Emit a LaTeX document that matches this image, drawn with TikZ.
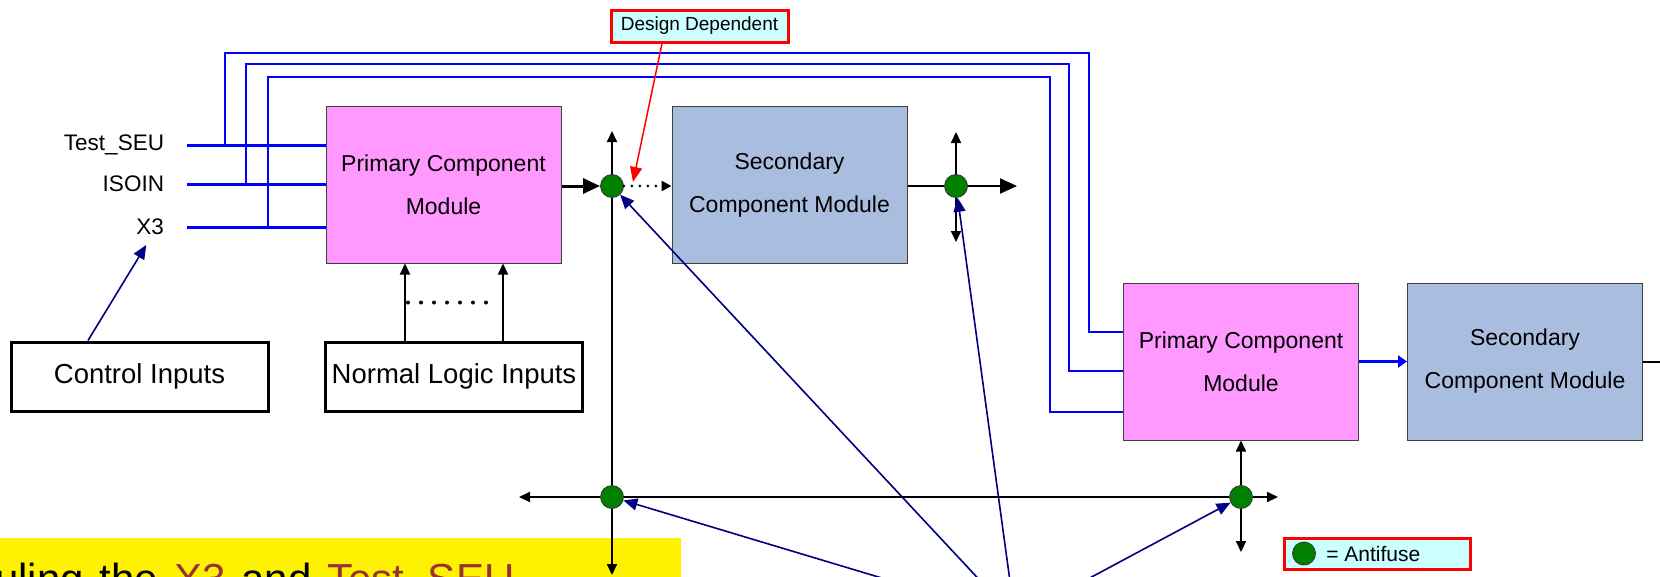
\documentclass[tikz,border=0pt]{standalone}
\usepackage{fontspec}
\setmainfont{Liberation Sans}
\usetikzlibrary{arrows.meta}
\definecolor{pcmpink}{HTML}{FF99FF}
\definecolor{scmblue}{HTML}{A9BEDF}
\definecolor{fusegreen}{HTML}{008000}
\definecolor{keycyan}{HTML}{CCFFFF}
\definecolor{navyline}{HTML}{000080}
\definecolor{sigblue}{HTML}{0000FF}
\definecolor{notered}{HTML}{993333}
\begin{document}
\begin{tikzpicture}[x=1pt,y=-1pt,line width=2pt,>={Triangle[length=11pt,width=10pt]},
  prim/.style={draw=black!75,line width=1pt,fill=pcmpink,minimum width=235pt,minimum height=157pt,
    align=center,font=\fontsize{23}{43}\selectfont},
  sec/.style={prim,fill=scmblue},
  inbox/.style={draw,line width=3pt,minimum width=257pt,minimum height=69pt,font=\fontsize{27.5}{33}\selectfont},
  lbl/.style={anchor=east,inner sep=2pt,font=\fontsize{22.5}{27}\selectfont},
  fuse/.style={circle,draw=black!80,line width=0.8pt,fill=fusegreen,minimum size=23pt,inner sep=0pt},
  callout/.style={draw=red,line width=3pt,fill=keycyan},
  sig/.style={sigblue,line width=3pt},
  wire/.style={sigblue,line width=1.8pt},
  pointer/.style={navyline,line width=1.6pt,-{Triangle[length=14pt,width=12pt]}},
  big/.style={-{Triangle[length=17pt,width=15pt]}},
  dots/.style={line width=4pt,line cap=round,dash pattern=on 0pt off 13pt}]
\useasboundingbox (0,0) rectangle (1660,576);
\clip (0,0) rectangle (1660,576);

\fill[yellow] (0,538) rectangle (681,600);
\node[anchor=base west,inner sep=0pt,font=\fontsize{42}{50}\selectfont] (note) at (-6,593)
  {\spaceskip=16pt uling the \textcolor{notered}{X3} and \textcolor{notered}{Test\_SEU}};

\node[lbl] (tseu) at (167,145) {Test\_SEU};
\node[lbl] (isoin) at (167,184) {ISOIN};
\node[lbl] (xthree) at (167,227) {X3};

\node[prim] (pcm1) at (443.5,184.5) {Primary Component\\Module};
\node[sec] (scm1) at (789.5,185) {Secondary\\Component Module};
\node[prim] (pcm2) at (1241,361.5) {Primary Component\\Module};
\node[sec] (scm2) at (1525,361.5) {Secondary\\Component Module};
\node[inbox] (ctrl) at (139.5,376.5) {Control Inputs};
\node[inbox] (norm) at (454,376.5) {\raisebox{-3pt}{Normal Logic Inputs}};
\node[callout,minimum width=177pt,minimum height=32pt,font=\fontsize{19}{22}\selectfont] (dd) at (699.5,26) {Design Dependent};

\node[fuse] (f1) at (612,186) {}; \node[fuse] (f2) at (956,186) {};
\node[fuse] (f3) at (1241,497) {}; \node[fuse] (f4) at (612,497) {};
\coordinate (up1) at (612,131); \coordinate (up2) at (956,132);
\coordinate (dn2) at (956,242); \coordinate (rt2) at (1017,186);
\coordinate (lt4) at (519,497); \coordinate (dn4) at (612,575);
\coordinate (rt3) at (1278,497); \coordinate (dn3) at (1241,552);
\coordinate (dep) at (633,182); \coordinate (src) at (1015,618);

\draw[sig] (tseu.east) ++(20,0) -- (tseu.east -| pcm1.west);
\draw[sig] (isoin.east) ++(20,0) -- (isoin.east -| pcm1.west);
\draw[sig] (xthree.east) ++(20,0) -- (xthree.east -| pcm1.west);
\draw[wire] (tseu.east) ++(58,0) |- (1089,53) |- ([yshift=29.5pt]pcm2.west);
\draw[wire] (isoin.east) ++(79,0) |- (1069,64) |- ([yshift=-9.5pt]pcm2.west);
\draw[wire] (xthree.east) ++(101,0) |- (1050,77) |- ([yshift=-50.5pt]pcm2.west);

\draw[big,line width=3pt] (pcm1.east |- f1) -- (f1);
\draw[line width=3pt,line cap=round,dash pattern=on 0pt off 8pt,-{Triangle[length=10pt,width=10pt]}] (f1.east) -- (scm1.west |- f1);
\draw[->] (f1) -- (up1); \draw (f1) -- (f4); \draw[->] (f4) -- (dn4);
\draw[->] (f4) -- (lt4); \draw (f4) -- (f3); \draw[->] (f3) -- (rt3);
\draw[->] (f3) -- (pcm2); \draw[->] (f3) -- (dn3);
\draw (scm1.east |- f2) -- (f2); \draw[big] (f2) -- (rt2);
\draw[->] (f2) -- (up2); \draw[->] (f2) -- (dn2);
\draw[->] ([xshift=-49pt]norm.north) -- ([xshift=-49pt]norm.north |- pcm1.south);
\draw[->] ([xshift=49pt]norm.north) -- ([xshift=49pt]norm.north |- pcm1.south);
\draw[dots] ([xshift=-46pt,yshift=38pt]norm.north) -- ([xshift=40pt,yshift=38pt]norm.north);
\draw[sig,-{Triangle[length=9pt,width=12pt]}] (pcm2.east) -- (scm2.west);
\draw (scm2.east) -- ++(30,0);

\draw[red,line width=1.5pt,-{Triangle[length=15pt,width=12pt]}] ([xshift=-37.5pt]dd.south) -- (dep);
\draw[pointer] ([xshift=-51.5pt]ctrl.north) -- ([xshift=-4pt,yshift=-7pt]xthree.south);
\draw[pointer] (src) -- (f1); \draw[pointer] (src) -- (f2);
\draw[pointer] (src) -- (f3); \draw[pointer] (src) -- (f4);

\node[callout,minimum width=186pt,minimum height=31pt] (key) at (1377,553.5) {};
\node[fuse] (keyf) at (1304,553.5) {};
\node[anchor=west,font=\fontsize{21}{25}\selectfont] (keyt) at (1322,553.5) {= Antifuse};
\end{tikzpicture}
\end{document}
